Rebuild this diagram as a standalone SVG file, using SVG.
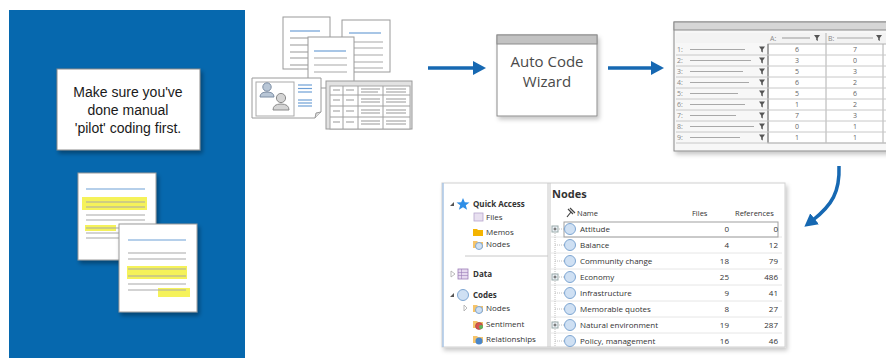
<svg xmlns="http://www.w3.org/2000/svg" width="886" height="358" viewBox="0 0 886 358">
  <defs>
    <style>
      .ui { font-family: "Open Sans", "Noto Sans", "DejaVu Sans", sans-serif; fill: #333; }
      .paper { fill: #fff; stroke: #9a9a9a; stroke-width: 1; }
      .gl { stroke: #a8a8a8; stroke-width: 1.2; }
      .bl { stroke: #6d9fd6; stroke-width: 1.2; }
      .hl { fill: #f5f25a; }
      .grid { stroke: #a0a0a0; stroke-width: 1; fill: none; }
      .arrow { fill: none; stroke: #1668b2; stroke-width: 3.5; }
      .sep { stroke: #e6e6e6; stroke-width: 1; }
      .node { fill: #cfe0f3; stroke: #7ea6d2; stroke-width: 1; }
    </style>
    <filter id="shadow" x="-20%" y="-20%" width="150%" height="150%">
      <feDropShadow dx="2" dy="3" stdDeviation="2" flood-color="#000" flood-opacity="0.35"/>
    </filter>
    <filter id="softshadow" x="-10%" y="-10%" width="130%" height="130%">
      <feDropShadow dx="2" dy="3" stdDeviation="2" flood-color="#000" flood-opacity="0.22"/>
    </filter>
    <marker id="head" markerUnits="userSpaceOnUse" markerWidth="16" markerHeight="16" refX="2" refY="7" orient="auto">
      <path d="M0,0 L13,7 L0,14 z" fill="#1668b2"/>
    </marker>
    <path id="funnel" d="M-3,-3 L3,-3 L0.8,0 L0.8,3 L-0.8,2 L-0.8,0 z" fill="#555"/>
  </defs>

  <!-- left blue panel -->
  <g id="pilot-panel">
    <rect x="9" y="10" width="236" height="348" fill="#0668ae"/>
    <rect x="57" y="69" width="143" height="81" fill="#fff" stroke="#8a8a8a" filter="url(#shadow)"/>
    <g font-family="'Liberation Sans', Arial, sans-serif" font-size="14" fill="#1a1a1a" text-anchor="middle">
      <text x="128" y="97">Make sure you've</text>
      <text x="128" y="115">done manual</text>
      <text x="128" y="133">'pilot' coding first.</text>
    </g>
    <!-- coded page 1 -->
    <g filter="url(#shadow)">
      <rect x="78" y="173" width="78" height="87" class="paper"/>
    </g>
    <line x1="86" y1="189" x2="145" y2="189" class="bl"/>
    <rect x="82" y="197" width="65" height="13" class="hl"/>
    <line x1="86" y1="202" x2="145" y2="202" class="gl"/>
    <line x1="86" y1="207" x2="145" y2="207" class="gl"/>
    <line x1="86" y1="215" x2="145" y2="215" class="gl"/>
    <line x1="86" y1="220" x2="145" y2="220" class="gl"/>
    <rect x="85" y="225" width="31" height="6" class="hl"/>
    <line x1="86" y1="228" x2="145" y2="228" class="gl"/>
    <line x1="86" y1="233" x2="145" y2="233" class="gl"/>
    <line x1="86" y1="238" x2="145" y2="238" class="gl"/>
    <!-- coded page 2 -->
    <g filter="url(#shadow)">
      <rect x="119" y="224" width="78" height="88" class="paper"/>
    </g>
    <line x1="128" y1="240" x2="186" y2="240" class="bl"/>
    <line x1="128" y1="253" x2="186" y2="253" class="gl"/>
    <line x1="128" y1="259" x2="186" y2="259" class="gl"/>
    <rect x="127" y="266" width="60" height="13" class="hl"/>
    <line x1="128" y1="269" x2="186" y2="269" class="gl"/>
    <line x1="128" y1="276" x2="186" y2="276" class="gl"/>
    <line x1="128" y1="284" x2="186" y2="284" class="gl"/>
    <rect x="158" y="288" width="32" height="9" class="hl"/>
    <line x1="128" y1="290" x2="186" y2="290" class="gl"/>
  </g>

  <!-- source files -->
  <g id="source-files">
    <rect x="283" y="17" width="47" height="52" class="paper"/>
    <line x1="290" y1="31" x2="320" y2="31" class="bl"/>
    <line x1="290" y1="38" x2="322" y2="38" class="gl"/>
    <line x1="290" y1="45" x2="322" y2="45" class="gl"/>
    <line x1="290" y1="52" x2="322" y2="52" class="gl"/>
    <line x1="290" y1="58" x2="322" y2="58" class="gl"/>
    <line x1="290" y1="65" x2="322" y2="65" class="gl"/>

    <rect x="342" y="20" width="48" height="52" class="paper"/>
    <line x1="349" y1="33" x2="381" y2="33" class="bl"/>
    <line x1="349" y1="42" x2="383" y2="42" class="gl"/>
    <line x1="349" y1="48" x2="383" y2="48" class="gl"/>
    <line x1="349" y1="55" x2="383" y2="55" class="gl"/>
    <line x1="349" y1="62" x2="383" y2="62" class="gl"/>
    <line x1="349" y1="68" x2="383" y2="68" class="gl"/>

    <rect x="308" y="37" width="46" height="51" class="paper"/>
    <line x1="314" y1="51" x2="346" y2="51" class="bl"/>
    <line x1="314" y1="58" x2="347" y2="58" class="gl"/>
    <line x1="314" y1="65" x2="347" y2="65" class="gl"/>
    <line x1="314" y1="72" x2="347" y2="72" class="gl"/>

    <!-- case card -->
    <path d="M252,78 H321 V112 L315,118 H252 z" class="paper"/>
    <path d="M315,118 L316,113 L321,112" fill="#ddd" stroke="#9a9a9a"/>
    <rect x="256" y="82" width="38" height="34" fill="#fff" stroke="#aaa"/>
    <circle cx="267" cy="87" r="4.2" fill="#b8c6d6" stroke="#7d8ea4"/>
    <path d="M260,97 Q260,92 267,92 Q274,92 274,97 z" fill="#b8c6d6" stroke="#7d8ea4"/>
    <circle cx="281" cy="98" r="4.6" fill="#d4d4d4" stroke="#8a8a8a"/>
    <path d="M273,110 Q273,104 281,104 Q289,104 289,110 z" fill="#d4d4d4" stroke="#8a8a8a"/>
    <line x1="298" y1="85" x2="312" y2="85" class="bl"/>
    <line x1="298" y1="88.5" x2="312" y2="88.5" class="bl"/>
    <line x1="298" y1="92" x2="312" y2="92" class="bl"/>
    <line x1="298" y1="100" x2="312" y2="100" class="bl"/>
    <line x1="298" y1="103" x2="312" y2="103" class="bl"/>
    <line x1="298" y1="106" x2="312" y2="106" class="bl"/>

    <!-- dataset sheet -->
    <rect x="326" y="81" width="86" height="48" fill="#e2e2e2" stroke="#9a9a9a"/>
    <rect x="330" y="86" width="80" height="43" fill="#fff" stroke="#a5a5a5"/>
    <line x1="343" y1="86" x2="343" y2="129" class="grid"/>
    <line x1="358" y1="86" x2="358" y2="129" class="grid"/>
    <line x1="383" y1="86" x2="383" y2="129" class="grid"/>
    <line x1="330" y1="95" x2="410" y2="95" class="grid"/>
    <line x1="330" y1="106" x2="410" y2="106" class="grid"/>
    <line x1="330" y1="117" x2="410" y2="117" class="grid"/>
    <g class="gl">
      <line x1="333" y1="90" x2="340" y2="90"/><line x1="346" y1="90" x2="354" y2="90"/>
      <line x1="361" y1="89" x2="380" y2="89"/><line x1="361" y1="92" x2="378" y2="92"/>
      <line x1="386" y1="89" x2="406" y2="89"/><line x1="386" y1="92" x2="406" y2="92"/>
      <line x1="333" y1="100" x2="340" y2="100"/><line x1="346" y1="100" x2="354" y2="100"/>
      <line x1="361" y1="99" x2="380" y2="99"/><line x1="361" y1="102" x2="380" y2="102"/>
      <line x1="386" y1="99" x2="406" y2="99"/><line x1="386" y1="102" x2="406" y2="102"/>
      <line x1="333" y1="111" x2="340" y2="111"/><line x1="346" y1="111" x2="354" y2="111"/>
      <line x1="361" y1="110" x2="380" y2="110"/><line x1="361" y1="113" x2="380" y2="113"/>
      <line x1="386" y1="110" x2="406" y2="110"/><line x1="386" y1="113" x2="406" y2="113"/>
      <line x1="333" y1="122" x2="340" y2="122"/><line x1="346" y1="122" x2="354" y2="122"/>
      <line x1="361" y1="121" x2="380" y2="121"/><line x1="361" y1="124" x2="380" y2="124"/>
      <line x1="386" y1="121" x2="406" y2="121"/><line x1="386" y1="124" x2="406" y2="124"/>
    </g>
  </g>

  <!-- wizard -->
  <g id="auto-code-wizard">
    <rect x="497" y="35" width="100" height="81" fill="#fff" stroke="#8c8c8c" filter="url(#softshadow)"/>
    <rect x="497" y="35" width="100" height="9" fill="#c2c2c2" stroke="#8c8c8c"/>
    <g class="ui" font-size="15" text-anchor="middle" style="fill:#4a4a4a">
      <text x="547" y="67">Auto Code</text>
      <text x="547" y="87">Wizard</text>
    </g>
  </g>

  <!-- result matrix -->
  <g id="coding-matrix" class="ui" font-size="7">
    <rect x="674" y="22" width="216" height="129" fill="#f7f7f7" stroke="#8a8a8a" filter="url(#softshadow)"/>
    <rect x="674" y="22" width="216" height="8" fill="#d6d6d6" stroke="#8a8a8a"/>
    <rect x="676" y="33" width="212" height="10" fill="#f3f3f3"/>
    <text x="770" y="41" style="fill:#888">A:</text>
    <line x1="782" y1="38" x2="810" y2="38" class="gl"/>
    <use href="#funnel" x="817" y="38"/>
    <text x="828" y="41" style="fill:#888">B:</text>
    <line x1="837" y1="38" x2="873" y2="38" class="gl"/>
    <use href="#funnel" x="879" y="38"/>
    <line x1="826" y1="33" x2="826" y2="143" stroke="#b5b5b5"/>
    <rect x="768" y="44" width="120" height="99" fill="#fff" stroke="#b0b0b0"/>
    <line x1="768" y1="44" x2="768" y2="143" stroke="#777"/>
    <line x1="826" y1="44" x2="826" y2="143" stroke="#b0b0b0"/>
    <line x1="883" y1="44" x2="883" y2="143" stroke="#b0b0b0"/>
    <g stroke="#c8c8c8">
      <line x1="676" y1="55" x2="886" y2="55"/><line x1="676" y1="66" x2="886" y2="66"/>
      <line x1="676" y1="77" x2="886" y2="77"/><line x1="676" y1="88" x2="886" y2="88"/>
      <line x1="676" y1="99" x2="886" y2="99"/><line x1="676" y1="110" x2="886" y2="110"/>
      <line x1="676" y1="121" x2="886" y2="121"/><line x1="676" y1="132" x2="886" y2="132"/>
      <line x1="676" y1="143" x2="886" y2="143"/>
    </g>
    <g style="fill:#888">
      <text x="677" y="52">1:</text><text x="677" y="63">2:</text><text x="677" y="74">3:</text>
      <text x="677" y="85">4:</text><text x="677" y="96">5:</text><text x="677" y="107">6:</text>
      <text x="677" y="118">7:</text><text x="677" y="129">8:</text><text x="677" y="140">9:</text>
    </g>
    <g class="gl">
      <line x1="690" y1="49.5" x2="745" y2="49.5"/><line x1="690" y1="60.5" x2="751" y2="60.5"/>
      <line x1="690" y1="71.5" x2="743" y2="71.5"/><line x1="690" y1="82.5" x2="749" y2="82.5"/>
      <line x1="690" y1="93.5" x2="738" y2="93.5"/><line x1="690" y1="104.5" x2="745" y2="104.5"/>
      <line x1="690" y1="115.5" x2="736" y2="115.5"/><line x1="690" y1="126.5" x2="754" y2="126.5"/>
      <line x1="690" y1="137.5" x2="740" y2="137.5"/>
    </g>
    <use href="#funnel" x="762" y="49.5"/><use href="#funnel" x="762" y="60.5"/>
    <use href="#funnel" x="762" y="71.5"/><use href="#funnel" x="762" y="82.5"/>
    <use href="#funnel" x="762" y="93.5"/><use href="#funnel" x="762" y="104.5"/>
    <use href="#funnel" x="762" y="115.5"/><use href="#funnel" x="762" y="126.5"/>
    <use href="#funnel" x="762" y="137.5"/>
    <g text-anchor="middle" style="fill:#666">
      <text x="797" y="52">6</text><text x="797" y="63">3</text><text x="797" y="74">5</text>
      <text x="797" y="85">6</text><text x="797" y="96">5</text><text x="797" y="107">1</text>
      <text x="797" y="118">7</text><text x="797" y="129">0</text><text x="797" y="140">1</text>
      <text x="855" y="52">7</text><text x="855" y="63">0</text><text x="855" y="74">3</text>
      <text x="855" y="85">2</text><text x="855" y="96">6</text><text x="855" y="107">2</text>
      <text x="855" y="118">3</text><text x="855" y="129">1</text><text x="855" y="140">1</text>
    </g>
  </g>

  <!-- navigation and node list -->
  <g id="nodes-view" class="ui" font-size="8">
    <rect x="442" y="183" width="343" height="164" fill="#fff" stroke="#d0d0d0" filter="url(#softshadow)"/>
    <line x1="443" y1="183" x2="443" y2="347" stroke="#a9c4e4" stroke-width="1.5"/>
    <line x1="548" y1="183" x2="548" y2="347" stroke="#c8c8c8"/>
    <line x1="550" y1="183" x2="550" y2="347" stroke="#c8c8c8"/>
    <line x1="465" y1="256" x2="548" y2="256" stroke="#c8c8c8"/>

    <!-- navigation pane -->
    <path d="M450,206 L454,202 L454,206 z" fill="#555"/>
    <path d="M463,198 L464.8,202.3 L469.5,202.5 L465.8,205.3 L467.1,209.8 L463,207.2 L458.9,209.8 L460.2,205.3 L456.5,202.5 L461.2,202.3 z" fill="#2f8ee6"/>
    <text x="473" y="207" font-weight="bold">Quick Access</text>
    <rect x="474" y="213" width="9" height="8" fill="#e8e0f0" stroke="#b6a6cc" stroke-width="0.8"/>
    <text x="486" y="220">Files</text>
    <path d="M473,229 H477 L478,230 H483 V236 H473 z" fill="#f4b400"/>
    <text x="486" y="235">Memos</text>
    <path d="M473,241 H477 L478,242 H483 V248 H473 z" fill="#f6c46a"/>
    <circle cx="479" cy="246" r="3.5" class="node"/>
    <text x="486" y="247">Nodes</text>

    <path d="M451,271 L455,274 L451,277 z" fill="none" stroke="#aaa" stroke-width="0.8"/>
    <rect x="458" y="269" width="10" height="10" fill="#e6d9ef" stroke="#9c7db8" stroke-width="0.8"/>
    <line x1="458" y1="272.5" x2="468" y2="272.5" stroke="#9c7db8" stroke-width="0.6"/>
    <line x1="458" y1="275.5" x2="468" y2="275.5" stroke="#9c7db8" stroke-width="0.6"/>
    <line x1="461.5" y1="269" x2="461.5" y2="279" stroke="#9c7db8" stroke-width="0.6"/>
    <text x="473" y="277" font-weight="bold">Data</text>

    <path d="M450,297 L454,293 L454,297 z" fill="#555"/>
    <circle cx="463" cy="295" r="5.5" class="node"/>
    <text x="473" y="298" font-weight="bold">Codes</text>
    <path d="M464,305 L467,308 L464,311 z" fill="none" stroke="#aaa" stroke-width="0.8"/>
    <path d="M473,305 H477 L478,306 H483 V312 H473 z" fill="#f6c46a"/>
    <circle cx="479" cy="310" r="3.5" class="node"/>
    <text x="486" y="311">Nodes</text>
    <path d="M473,321 H477 L478,322 H483 V328 H473 z" fill="#f6c46a"/>
    <circle cx="479" cy="326" r="3.5" fill="#d9534f" stroke="#9b3c3a" stroke-width="0.6"/>
    <circle cx="481" cy="327" r="2" fill="#5cb85c"/>
    <text x="486" y="327">Sentiment</text>
    <path d="M473,336 H477 L478,337 H483 V343 H473 z" fill="#f6c46a"/>
    <circle cx="479" cy="341" r="3.5" fill="#4a86c8"/>
    <text x="486" y="342">Relationships</text>

    <!-- list pane -->
    <text x="552" y="198" font-size="11" font-weight="bold">Nodes</text>
    <path d="M568,209 L573,214 M570,208 L575,213 M571,212 L567,217" stroke="#444" stroke-width="1.2" fill="none"/>
    <text x="577" y="216" font-size="7.5">Name</text>
    <text x="692" y="216" font-size="7.5">Files</text>
    <text x="735" y="216" font-size="7.5">References</text>

    <g class="sep">
      <line x1="551" y1="237" x2="782" y2="237"/><line x1="551" y1="253" x2="782" y2="253"/>
      <line x1="551" y1="269" x2="782" y2="269"/><line x1="551" y1="285" x2="782" y2="285"/>
      <line x1="551" y1="301" x2="782" y2="301"/><line x1="551" y1="317" x2="782" y2="317"/>
      <line x1="551" y1="333" x2="782" y2="333"/>
    </g>
    <rect x="564" y="222" width="214" height="15" fill="none" stroke="#a0a0a0"/>
    <g stroke="#b0b0b0" stroke-width="0.8" stroke-dasharray="1,1">
      <line x1="555" y1="229" x2="555" y2="347"/>
      <line x1="555" y1="245" x2="564" y2="245"/><line x1="555" y1="261" x2="564" y2="261"/>
      <line x1="555" y1="293" x2="564" y2="293"/><line x1="555" y1="309" x2="564" y2="309"/>
      <line x1="555" y1="341" x2="564" y2="341"/>
      <line x1="559" y1="229" x2="564" y2="229"/><line x1="559" y1="277" x2="564" y2="277"/>
      <line x1="559" y1="325" x2="564" y2="325"/>
    </g>
    <g>
      <rect x="552" y="226" width="6" height="6" fill="#eef3f8" stroke="#9aa"/>
      <line x1="553.5" y1="229" x2="556.5" y2="229" stroke="#555"/><line x1="555" y1="227.5" x2="555" y2="230.5" stroke="#555"/>
      <rect x="552" y="274" width="6" height="6" fill="#eef3f8" stroke="#9aa"/>
      <line x1="553.5" y1="277" x2="556.5" y2="277" stroke="#555"/><line x1="555" y1="275.5" x2="555" y2="278.5" stroke="#555"/>
      <rect x="552" y="322" width="6" height="6" fill="#eef3f8" stroke="#9aa"/>
      <line x1="553.5" y1="325" x2="556.5" y2="325" stroke="#555"/><line x1="555" y1="323.5" x2="555" y2="326.5" stroke="#555"/>
    </g>
    <g>
      <circle cx="570" cy="229" r="5.5" class="node"/><circle cx="570" cy="245" r="5.5" class="node"/>
      <circle cx="570" cy="261" r="5.5" class="node"/><circle cx="570" cy="277" r="5.5" class="node"/>
      <circle cx="570" cy="293" r="5.5" class="node"/><circle cx="570" cy="309" r="5.5" class="node"/>
      <circle cx="570" cy="325" r="5.5" class="node"/><circle cx="570" cy="341" r="5.5" class="node"/>
    </g>
    <g>
      <text x="580" y="232">Attitude</text><text x="580" y="248">Balance</text>
      <text x="580" y="264">Community change</text><text x="580" y="280">Economy</text>
      <text x="580" y="296">Infrastructure</text><text x="580" y="312">Memorable quotes</text>
      <text x="580" y="328">Natural environment</text><text x="580" y="344">Policy, management</text>
    </g>
    <g text-anchor="end">
      <text x="729" y="232">0</text><text x="729" y="248">4</text><text x="729" y="264">18</text>
      <text x="729" y="280">25</text><text x="729" y="296">9</text><text x="729" y="312">8</text>
      <text x="729" y="328">19</text><text x="729" y="344">16</text>
      <text x="778" y="232">0</text><text x="778" y="248">12</text><text x="778" y="264">79</text>
      <text x="778" y="280">486</text><text x="778" y="296">41</text><text x="778" y="312">27</text>
      <text x="778" y="328">287</text><text x="778" y="344">46</text>
    </g>
  </g>

  <!-- flow arrows -->
  <g id="connectors">
    <line x1="428" y1="68" x2="475" y2="68" class="arrow" marker-end="url(#head)"/>
    <line x1="608" y1="68" x2="653" y2="68" class="arrow" marker-end="url(#head)"/>
    <path d="M839,166 C840,192 832,205 813,220" class="arrow" marker-end="url(#head)"/>
  </g>
</svg>
